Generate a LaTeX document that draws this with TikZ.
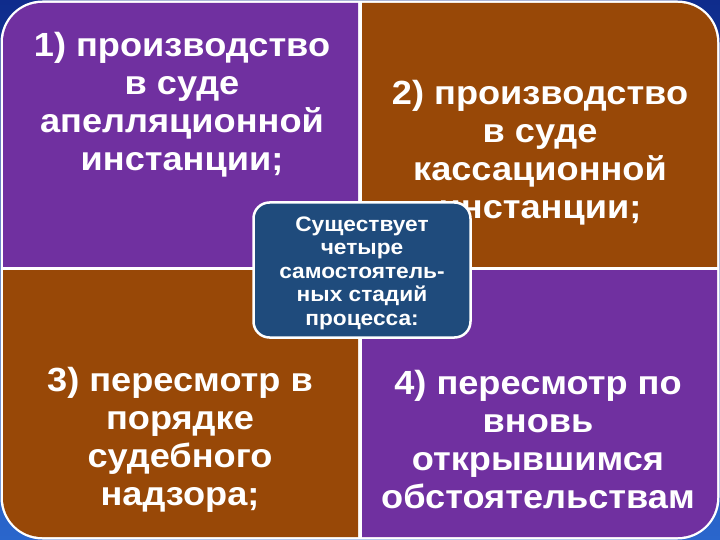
\documentclass[tikz,border=0pt]{standalone}
\usepackage{fontspec}
\setmainfont{Liberation Sans}
\newfontfamily\slidefont[FakeStretch=1.08]{Liberation Sans}
\usepackage{tikz}
\usetikzlibrary{shapes}
\definecolor{cellpurple}{HTML}{7030A0}
\definecolor{cellbrown}{HTML}{984807}
\definecolor{boxblue}{HTML}{1F4B7C}
\definecolor{backtop}{HTML}{0F2C8C}
\definecolor{backbottom}{HTML}{2A66CC}
\tikzstyle{cell text}=[text=white,align=center,font=\slidefont\bfseries\fontsize{33.5}{38}\selectfont]
\tikzstyle{center box}=[rectangle,rounded corners=16pt,draw=white,line width=2.5pt,fill=boxblue,
  minimum width=217pt,minimum height=135pt]
\tikzstyle{center text}=[text=white,align=center,font=\slidefont\bfseries\fontsize{21}{23.5}\selectfont]

\begin{document}
\begin{tikzpicture}[x=1pt,y=-1pt]
        % background and white rim
        \shade[top color=backtop,bottom color=backbottom] (0,0) rectangle (720,540);
        \fill[white,rounded corners=42pt] (0.5,0.5) rectangle (719.5,539.5);
        % four cells
        \begin{scope}
          \clip (0,0) rectangle (358,266);
          \fill[cellpurple,rounded corners=39pt] (3,3) rectangle (717,537);
        \end{scope}
        \begin{scope}
          \clip (362,0) rectangle (720,266);
          \fill[cellbrown,rounded corners=39pt] (3,3) rectangle (717,537);
        \end{scope}
        \begin{scope}
          \clip (0,270) rectangle (358,540);
          \fill[cellbrown,rounded corners=39pt] (3,3) rectangle (717,537);
        \end{scope}
        \begin{scope}
          \clip (362,270) rectangle (720,540);
          \fill[cellpurple,rounded corners=39pt] (3,3) rectangle (717,537);
        \end{scope}
        % cell texts
        \node[cell text] (appeal) at (182,105) {1) производство\\в суде\\апелляционной\\инстанции;};
        \node[cell text] (cassation) at (540,153) {2) производство\\в суде\\кассационной\\инстанции;};
        \node[cell text] (review) at (180,440) {3) пересмотр в\\порядке\\судебного\\надзора;};
        \node[cell text] (newfacts) at (538,440) {4) пересмотр по\\вновь\\открывшимся\\обстоятельствам};
        % middle box
        \node[center box] (stages) at (362,270) {};
        \node[center text] (stagestext) at (362,273) {Существует\\четыре\\самостоятель-\\ных стадий\\процесса:};
\end{tikzpicture}
\end{document}
